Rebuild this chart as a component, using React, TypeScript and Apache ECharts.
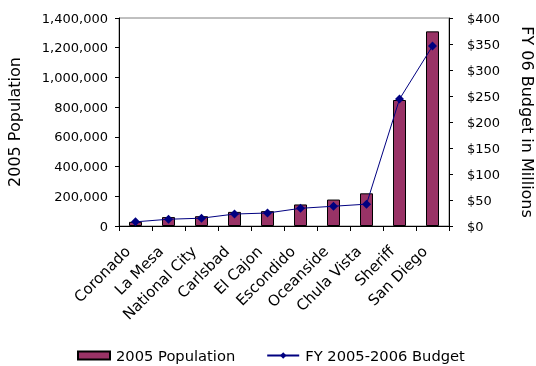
import React, { useEffect, useRef } from "react";
import * as echarts from "echarts";

const categories = ["Coronado", "La Mesa", "National City", "Carlsbad", "El Cajon", "Escondido", "Oceanside", "Chula Vista", "Sheriff", "San Diego"];
const population = [28000, 60000, 66000, 95000, 100000, 145000, 178000, 220000, 848000, 1310000];
const budget = [8, 13, 15, 23, 25, 34, 38, 42, 244, 346];
const popTicks = { min: 0, max: 1400000, interval: 200000 };
const budgetTicks = { min: 0, max: 400, interval: 50 };

const FONT = "DejaVu Sans";

export default function App() {
  const ref = useRef<HTMLDivElement>(null);
  useEffect(() => {
    const chart = echarts.init(ref.current!, null, { renderer: "svg" });
    chart.setOption({
      animation: false,
      textStyle: { fontFamily: FONT, color: "#000" },
      grid: {
        left: 119,
        right: 87,
        top: 18,
        bottom: 140,
        show: true,
        borderColor: "#808080",
        borderWidth: 1,
        containLabel: false,
        outerBoundsMode: "none",
      },
      legend: {
        left: 77,
        top: 348,
        padding: 0,
        itemGap: 31,
        itemWidth: 32,
        itemHeight: 8,
        textStyle: { fontFamily: FONT, fontSize: 14.7, color: "#000", padding: [0, 0, 0, 1] },
        data: [
          { name: "2005 Population", icon: "rect" },
          { name: "FY 2005-2006 Budget" },
        ],
      },
      xAxis: {
        type: "category",
        data: categories,
        axisLine: { lineStyle: { color: "#000" } },
        axisTick: { show: true, alignWithLabel: false, length: 5, lineStyle: { color: "#000" } },
        axisLabel: {
          rotate: 45,
          fontSize: 15,
          color: "#000",
          fontFamily: FONT,
          margin: 15,
          interval: 0,
          padding: [0, 11, 0, 0],
        },
      },
      yAxis: [
        {
          type: "value",
          ...popTicks,
          position: "left",
          name: "2005 Population",
          nameLocation: "middle",
          nameGap: 97,
          nameTextStyle: { fontSize: 16, color: "#000", fontFamily: FONT },
          axisLine: { show: true, lineStyle: { color: "#000" } },
          axisTick: { show: true, length: 4, lineStyle: { color: "#000" } },
          splitLine: { show: false },
          axisLabel: {
            fontSize: 13,
            color: "#000",
            fontFamily: FONT,
            margin: 11,
            formatter: (v: number) => v.toLocaleString("en-US"),
          },
        },
        {
          type: "value",
          ...budgetTicks,
          position: "right",
          name: "FY 06 Budget in Millions",
          nameLocation: "middle",
          nameRotate: -90,
          nameGap: 70,
          nameTextStyle: { fontSize: 16, color: "#000", fontFamily: FONT },
          axisLine: { show: true, lineStyle: { color: "#000" } },
          axisTick: { show: true, length: 4, lineStyle: { color: "#000" } },
          splitLine: { show: false },
          axisLabel: {
            fontSize: 13,
            color: "#000",
            fontFamily: FONT,
            margin: 18,
            formatter: (v: number) => "$" + v,
          },
        },
      ],
      series: [
        {
          name: "2005 Population",
          type: "bar",
          yAxisIndex: 0,
          data: population,
          barWidth: 13,
          itemStyle: { color: "#993366", borderColor: "#000", borderWidth: 1 },
        },
        {
          name: "FY 2005-2006 Budget",
          type: "line",
          yAxisIndex: 1,
          data: budget,
          symbol: "diamond",
          symbolSize: 9,
          lineStyle: { color: "#000080", width: 1 },
          itemStyle: { color: "#000080" },
        },
      ],
    });
    return () => chart.dispose();
  }, []);
  return <div ref={ref} style={{ position: "fixed", left: 0, top: 0, width: 536, height: 366 }} />;
}
